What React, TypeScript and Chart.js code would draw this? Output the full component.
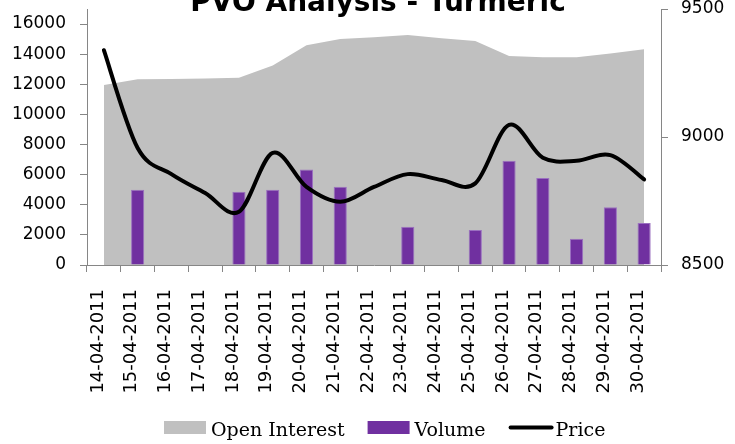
import { useEffect, useRef } from 'react';
import { Chart, registerables } from 'chart.js';

Chart.register(...registerables);

const TITLE = 'PVO Analysis - Turmeric';

const categories = [
  '14-04-2011', '15-04-2011', '16-04-2011', '17-04-2011', '18-04-2011', '19-04-2011',
  '20-04-2011', '21-04-2011', '22-04-2011', '23-04-2011', '24-04-2011', '25-04-2011',
  '26-04-2011', '27-04-2011', '28-04-2011', '29-04-2011', '30-04-2011',
];

const openInterest = [
  11950, 12330, 12350, 12390, 12440, 13250, 14600, 15000, 15120,
  15270, 15050, 14870, 13880, 13790, 13790, 14040, 14320,
];

const volume = [
  null, 5000, null, null, 4870, 5000, 6350, 5200, null,
  2540, null, 2320, 6930, 5780, 1750, 3830, 2790,
];

const price = [
  9339, 8957, 8855, 8781, 8708, 8938, 8805, 8747, 8805,
  8855, 8832, 8819, 9047, 8919, 8907, 8929, 8834,
];

const leftTickValues = [0, 2000, 4000, 6000, 8000, 10000, 12000, 14000, 16000];
const leftAxisMax = 17000;
const rightTickValues = [8500, 9000, 9500];

const AXIS_GREY = '#868686';

const titlePlugin = {
  id: 'topTitle',
  afterDraw(chart: any) {
    const ctx = chart.ctx;
    ctx.save();
    ctx.font = 'bold 28px "DejaVu Sans"';
    ctx.fillStyle = '#000';
    ctx.textAlign = 'center';
    ctx.textBaseline = 'alphabetic';
    ctx.fillText(TITLE, 378, 10.5);
    ctx.restore();
  },
};

// Excel-style smoothing: uniform Catmull-Rom control points from the library's own point positions
const smoothPlugin = {
  id: 'excelSmooth',
  beforeDatasetDraw(chart: any, args: any) {
    const ds = chart.data.datasets[args.index];
    if (!ds || !ds.excelSmooth) return;
    const meta = args.meta;
    meta.dataset.updateControlPoints(chart.chartArea, meta.iScale.axis);
    const pts = meta.data;
    for (let i = 0; i < pts.length; i++) {
      const p = pts[i];
      const prev = pts[i - 1] || p;
      const next = pts[i + 1] || p;
      const dx = (next.x - prev.x) / 6;
      const dy = (next.y - prev.y) / 6;
      p.cp1x = p.x - dx;
      p.cp1y = p.y - dy;
      p.cp2x = p.x + dx;
      p.cp2y = p.y + dy;
    }
  },
};

const legendPlugin = {
  id: 'bottomLegend',
  afterDraw(chart: any) {
    const ctx = chart.ctx;
    ctx.save();
    ctx.font = '19px "DejaVu Serif"';
    ctx.textBaseline = 'alphabetic';
    ctx.textAlign = 'left';
    let x = 164;
    const boxTop = 421;
    const boxH = 13;
    const baseline = 436;
    chart.data.datasets.forEach((ds: any) => {
      const isLine = ds.type === 'line' && !ds.fill;
      if (isLine) {
        ctx.strokeStyle = ds.borderColor;
        ctx.lineWidth = 4;
        ctx.lineCap = 'round';
        ctx.beginPath();
        ctx.moveTo(x + 2, boxTop + boxH / 2);
        ctx.lineTo(x + 43, boxTop + boxH / 2);
        ctx.stroke();
        x += 47;
      } else {
        ctx.fillStyle = ds.backgroundColor;
        ctx.fillRect(x, boxTop, 42, boxH);
        x += 47;
      }
      ctx.fillStyle = '#000';
      ctx.fillText(ds.label, x, baseline);
      x += ctx.measureText(ds.label).width + 23;
    });
    ctx.restore();
  },
};

export default function App() {
  const canvasRef = useRef<HTMLCanvasElement | null>(null);

  useEffect(() => {
    if (!canvasRef.current) return;
    const tickFont = { family: '"DejaVu Sans"', size: 17 };
    const plain = (v: any) => String(v);
    const chart = new Chart(canvasRef.current, {
      type: 'bar',
      data: {
        labels: categories,
        datasets: [
          {
            type: 'line',
            label: 'Open Interest',
            data: openInterest,
            yAxisID: 'y',
            fill: 'origin',
            backgroundColor: '#C0C0C0',
            borderColor: 'rgba(0,0,0,0)',
            borderWidth: 0,
            pointRadius: 0,
            tension: 0,
            order: 3,
          } as any,
          {
            type: 'bar',
            label: 'Volume',
            data: volume,
            yAxisID: 'y',
            backgroundColor: '#7030A0',
            borderColor: '#9A70C0',
            borderWidth: 1,
            barPercentage: 0.39,
            categoryPercentage: 1,
            order: 2,
          } as any,
          {
            type: 'line',
            label: 'Price',
            data: price,
            yAxisID: 'y1',
            fill: false,
            excelSmooth: true,
            borderColor: '#000000',
            backgroundColor: '#000000',
            borderWidth: 4,
            borderCapStyle: 'round',
            borderJoinStyle: 'round',
            pointRadius: 0,
            tension: 0.4,
            order: 1,
          } as any,
        ],
      },
      options: {
        responsive: false,
        animation: false,
        devicePixelRatio: 1,
        events: [],
        layout: { padding: { top: 9, left: 0, right: 0, bottom: 0 } },
        plugins: {
          legend: { display: false },
          title: { display: false },
          tooltip: { enabled: false },
        },
        scales: {
          x: {
            type: 'category',
            offset: true,
            grid: {
              offset: true,
              drawOnChartArea: false,
              drawTicks: true,
              tickLength: 7,
              color: AXIS_GREY,
            },
            border: { display: true, color: AXIS_GREY, width: 1 },
            ticks: {
              font: { family: '"DejaVu Sans"', size: 18 },
              color: '#000',
              minRotation: 90,
              maxRotation: 90,
              autoSkip: false,
              padding: 17,
              labelOffset: -6,
            },
            afterFit(scale: any) {
              scale.height = 179;
              scale.paddingLeft = 0;
              scale.paddingRight = 0;
            },
          },
          y: {
            type: 'linear',
            position: 'left',
            min: 0,
            max: leftAxisMax,
            afterBuildTicks(scale: any) {
              scale.ticks = leftTickValues.map((v) => ({ value: v }));
            },
            grid: {
              drawOnChartArea: false,
              drawTicks: true,
              tickLength: 7,
              color: AXIS_GREY,
            },
            border: { display: true, color: AXIS_GREY, width: 1 },
            ticks: { font: tickFont, color: '#000', padding: 14, callback: plain },
            afterFit(scale: any) {
              scale.width = 87;
              scale.paddingTop = 0;
              scale.paddingBottom = 0;
            },
          },
          y1: {
            type: 'linear',
            position: 'right',
            min: 8500,
            max: 9500,
            afterBuildTicks(scale: any) {
              scale.ticks = rightTickValues.map((v) => ({ value: v }));
            },
            grid: {
              drawOnChartArea: false,
              drawTicks: true,
              tickLength: 7,
              color: AXIS_GREY,
            },
            border: { display: true, color: AXIS_GREY, width: 1 },
            ticks: { font: tickFont, color: '#000', padding: 13, callback: plain },
            afterFit(scale: any) {
              scale.width = 74;
              scale.paddingTop = 0;
              scale.paddingBottom = 0;
            },
          },
        },
      },
      plugins: [titlePlugin, smoothPlugin, legendPlugin],
    });
    return () => chart.destroy();
  }, []);

  return (
    <div style={{ position: 'absolute', left: 0, top: 0, width: 735, height: 444, background: '#fff' }}>
      <canvas ref={canvasRef} width={735} height={444} />
    </div>
  );
}
